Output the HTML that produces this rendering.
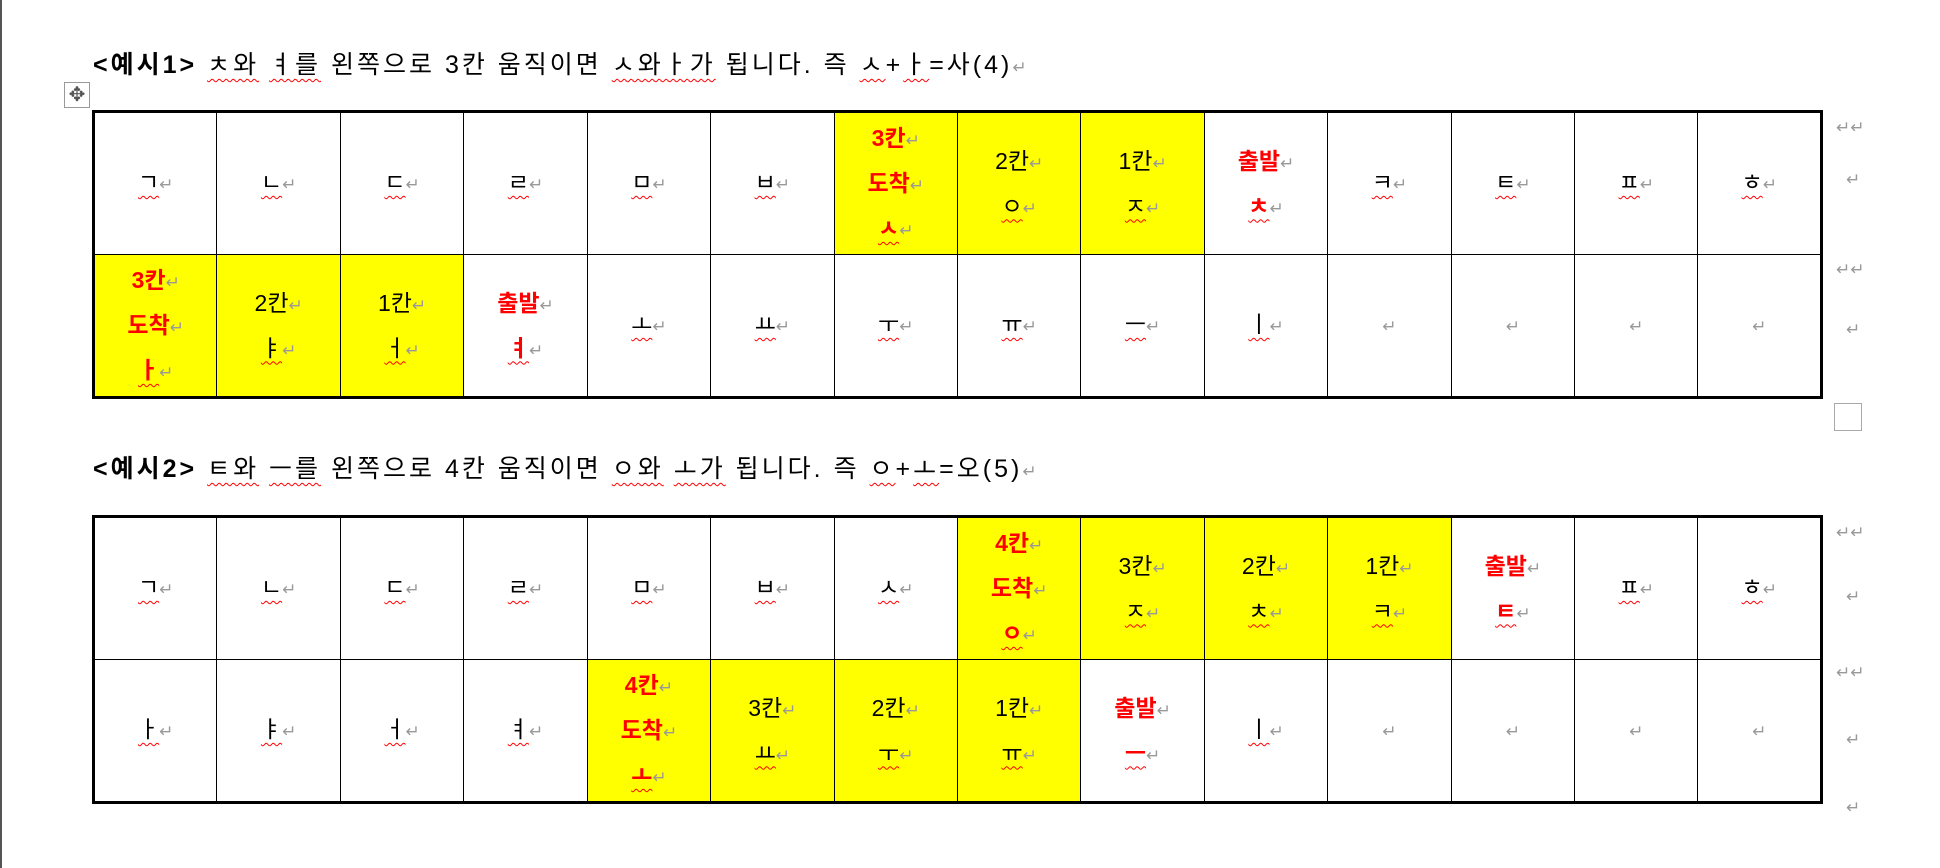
<!DOCTYPE html>
<html><head><meta charset="utf-8">
<style>
body{margin:0;width:1940px;height:868px;background:#fff;position:relative;overflow:hidden;font-family:"Liberation Sans","Noto Sans CJK KR",sans-serif;}
.edge{position:absolute;left:0;top:0;width:2px;height:868px;background:#555;}
.hdr{position:absolute;left:93px;font-size:25px;letter-spacing:3px;line-height:30px;color:#000;white-space:nowrap;}
.w{text-decoration:underline wavy red;text-decoration-thickness:1px;text-underline-offset:5px;}
.rt{color:#999;font-size:17px;letter-spacing:0;}
table{position:absolute;left:92px;width:1731px;border-collapse:collapse;table-layout:fixed;border:3px solid #000;}
tr{height:143px;}
td{border:1px solid #000;height:141px;padding:0;text-align:center;vertical-align:middle;font-size:23px;line-height:44px;overflow:hidden;}
td div{height:45px;line-height:45px;overflow:visible;}
td.y{background:#ff0;}
.r{color:#f00;font-weight:bold;}
.mv{position:absolute;left:64px;top:82px;width:24px;height:24px;border:1px solid #999;color:#555;font-size:20px;line-height:24px;text-align:center;}
.rm{position:absolute;color:#999;font-size:17px;}
</style></head><body>
<div class="edge"></div>
<div class="hdr" style="top:50px"><b>&lt;예시1&gt;</b> <span class="w">ㅊ와</span> <span class="w">ㅕ를</span> 왼쪽으로 3칸 움직이면 <span class="w">ㅅ와ㅏ가</span> 됩니다. 즉 <span class="w">ㅅ</span>+<span class="w">ㅏ</span>=사(4)<span class="rt">↵</span></div>
<div class="mv">✥</div>
<table id="t1" style="top:110px"></table>
<div class="hdr" style="top:454px"><b>&lt;예시2&gt;</b> <span class="w">ㅌ와</span> <span class="w">ㅡ를</span> 왼쪽으로 4칸 움직이면 <span class="w">ㅇ와</span> <span class="w">ㅗ가</span> 됩니다. 즉 <span class="w">ㅇ</span>+<span class="w">ㅗ</span>=오(5)<span class="rt">↵</span></div>
<table id="t2" style="top:515px"></table>
<div class="rm" style="left:1836px;top:118px">↵↵</div>
<div class="rm" style="left:1846px;top:170px">↵</div>
<div class="rm" style="left:1836px;top:260px">↵↵</div>
<div class="rm" style="left:1846px;top:320px">↵</div>
<div class="rm" style="left:1836px;top:523px">↵↵</div>
<div class="rm" style="left:1846px;top:587px">↵</div>
<div class="rm" style="left:1836px;top:663px">↵↵</div>
<div class="rm" style="left:1846px;top:730px">↵</div>
<div class="rm" style="left:1846px;top:798px">↵</div>
<div style="position:absolute;left:1834px;top:403px;width:26px;height:26px;border:1px solid #aaa"></div>
<script>
const t1r1=["ㄱ","ㄴ","ㄷ","ㄹ","ㅁ","ㅂ","y|!3칸|!도착|!ㅅ","y|2칸|ㅇ","y|1칸|ㅈ","w|!출발|!ㅊ","ㅋ","ㅌ","ㅍ","ㅎ"];
const t1r2=["y|!3칸|!도착|!ㅏ","y|2칸|ㅑ","y|1칸|ㅓ","w|!출발|!ㅕ","ㅗ","ㅛ","ㅜ","ㅠ","ㅡ","ㅣ","","","",""];
const t2r1=["ㄱ","ㄴ","ㄷ","ㄹ","ㅁ","ㅂ","ㅅ","y|!4칸|!도착|!ㅇ","y|3칸|ㅈ","y|2칸|ㅊ","y|1칸|ㅋ","w|!출발|!ㅌ","ㅍ","ㅎ"];
const t2r2=["ㅏ","ㅑ","ㅓ","ㅕ","y|!4칸|!도착|!ㅗ","y|3칸|ㅛ","y|2칸|ㅜ","y|1칸|ㅠ","w|!출발|!ㅡ","ㅣ","","","",""];
function line(s,last){
  let red=s[0]==='!'; if(red)s=s.slice(1);
  let jamo=last && !/칸|착|발/.test(s);
  let inner=jamo?'<span class="w">'+s+'</span>':s;
  return '<div'+(red?' class="r"':'')+'>'+inner+'<span class="rt" style="font-weight:normal">↵</span></div>';
}
function build(id,rows){
  const t=document.getElementById(id);
  rows.forEach((row,ri)=>{
    const tr=document.createElement('tr');
    
    
    row.forEach((c,ci)=>{
      const td=document.createElement('td');
      
      
      if(c.includes('|')){
        const p=c.split('|');
        if(p[0]==='y')td.className='y';
        td.innerHTML=p.slice(1).map((s,i,a)=>line(s,i===a.length-1)).join('');
      }else if(c===''){
        td.innerHTML='<span class="rt">↵</span>';
      }else{
        td.innerHTML='<span class="w">'+c+'</span><span class="rt">↵</span>';
      }
      tr.appendChild(td);
    });
    t.appendChild(tr);
  });
}
build('t1',[t1r1,t1r2]);
build('t2',[t2r1,t2r2]);
</script>
</body></html>
